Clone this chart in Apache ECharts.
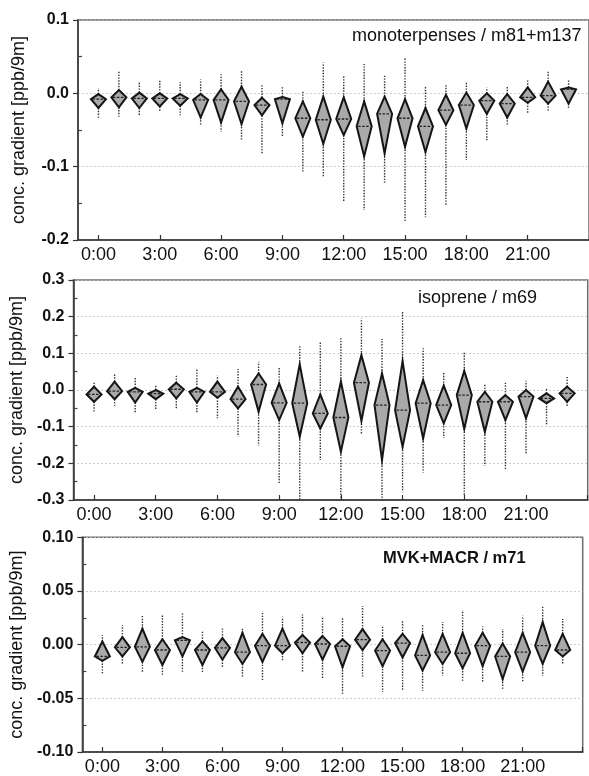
<!DOCTYPE html>
<html>
<head>
<meta charset="utf-8">
<script src="https://cdn.jsdelivr.net/npm/echarts@6/dist/echarts.min.js"></script>
<style>html,body{margin:0;padding:0;background:#fff}#c{width:589px;height:776px}</style>
</head>
<body>
<div id="c"></div>
<script>
// hours of day
const hours = [0,1,2,3,4,5,6,7,8,9,10,11,12,13,14,15,16,17,18,19,20,21,22,23];
const xLabelValues = [0,3,6,9,12,15,18,21];

// monoterpenes / m81+m137
const monoMax = [0.007,0.030,0.0145,0.019,0.0155,0.019,0.026,0.030,0.013,0.010,0.002,0.042,0.024,0.040,0.025,0.048,0.010,0.011,0.016,0.008,0.009,0.019,0.030,0.0195];
const monoQ3  = [-0.001,0.0045,0.001,0.0,-0.001,-0.001,0.0055,0.009,-0.006,-0.005,-0.011,-0.0045,-0.0055,-0.011,-0.0045,-0.008,-0.020,-0.002,0.001,0.0,-0.001,0.008,0.016,0.008];
const monoMed = [-0.008,-0.0055,-0.007,-0.007,-0.007,-0.009,-0.009,-0.011,-0.016,-0.008,-0.034,-0.036,-0.035,-0.045,-0.028,-0.034,-0.045,-0.023,-0.016,-0.010,-0.014,-0.0055,-0.003,0.0055];
const monoQ1  = [-0.020,-0.019,-0.020,-0.018,-0.017,-0.033,-0.040,-0.042,-0.030,-0.041,-0.059,-0.069,-0.057,-0.086,-0.082,-0.073,-0.080,-0.043,-0.048,-0.028,-0.033,-0.013,-0.014,-0.014];
const monoMin = [-0.034,-0.032,-0.031,-0.024,-0.030,-0.043,-0.052,-0.063,-0.082,-0.059,-0.107,-0.114,-0.148,-0.159,-0.123,-0.174,-0.169,-0.152,-0.091,-0.064,-0.043,-0.028,-0.025,-0.021];

// isoprene / m69
const isoMax = [0.020,0.043,0.036,0.015,0.039,0.057,0.039,0.057,0.077,0.064,0.121,0.132,0.143,0.195,0.139,0.214,0.114,0.050,0.102,0.014,0.020,0.025,0.003,0.039];
const isoQ3  = [0.009,0.023,0.006,0.0,0.020,0.006,0.023,0.009,0.045,0.018,0.070,-0.012,0.023,0.095,0.045,0.079,0.027,0.012,0.052,-0.005,-0.014,0.0,-0.009,0.009];
const isoMed = [-0.012,-0.003,-0.005,-0.010,0.002,-0.005,-0.005,-0.025,0.015,-0.035,-0.036,-0.064,-0.075,0.020,-0.041,-0.055,-0.036,-0.041,-0.014,-0.032,-0.032,-0.018,-0.023,-0.009];
const isoQ1  = [-0.032,-0.025,-0.034,-0.025,-0.023,-0.034,-0.021,-0.050,-0.059,-0.082,-0.127,-0.105,-0.168,-0.084,-0.191,-0.155,-0.132,-0.091,-0.106,-0.114,-0.082,-0.077,-0.036,-0.032];
const isoMin = [-0.059,-0.043,-0.062,-0.052,-0.052,-0.064,-0.077,-0.127,-0.152,-0.255,-0.300,-0.191,-0.300,-0.121,-0.300,-0.279,-0.225,-0.130,-0.286,-0.207,-0.218,-0.175,-0.097,-0.045];

// MVK+MACR / m71
const mvkMax = [0.009,0.018,0.028,0.028,0.029,0.012,0.015,0.016,0.031,0.026,0.028,0.026,0.025,0.036,0.018,0.022,0.019,0.021,0.032,0.017,0.0145,0.027,0.036,0.024];
const mvkQ3  = [0.003,0.007,0.015,0.005,0.007,0.003,0.006,0.011,0.010,0.015,0.009,0.008,0.005,0.0145,0.005,0.010,0.009,0.010,0.011,0.011,0.001,0.011,0.021,0.010];
const mvkMed = [-0.011,-0.0025,-0.002,-0.005,0.004,-0.005,-0.003,-0.007,-0.001,-0.001,0.002,0.0006,-0.0015,0.0046,-0.0055,0.0015,-0.010,-0.007,-0.008,-0.001,-0.011,-0.007,-0.001,-0.005];
const mvkQ1  = [-0.015,-0.011,-0.016,-0.019,-0.011,-0.019,-0.014,-0.018,-0.016,-0.008,-0.008,-0.014,-0.021,-0.005,-0.020,-0.012,-0.024,-0.018,-0.022,-0.020,-0.032,-0.025,-0.018,-0.011];
const mvkMin = [-0.028,-0.018,-0.026,-0.029,-0.026,-0.026,-0.021,-0.031,-0.034,-0.015,-0.026,-0.032,-0.047,-0.031,-0.044,-0.043,-0.043,-0.029,-0.034,-0.035,-0.041,-0.035,-0.029,-0.018];

const titles = ['monoterpenses / m81+m137', 'isoprene / m69', 'MVK+MACR / m71'];
const yName = 'conc. gradient [ppb/9m]';

function build(mn,q1,md,q3,mx){
  return hours.map((h,i)=>[h, mn[i], q1[i], md[i], q3[i], mx[i]]);
}
const panels = [
  {data: build(monoMin,monoQ1,monoMed,monoQ3,monoMax), min:-0.2, max:0.1, interval:0.1, minor:[-0.15,-0.05,0.05], dec:1,
   grid:{left:78, top:20, width:512, height:220}, nameGap:50, title:{x:352,y:36,size:18,w:'normal'}},
  {data: build(isoMin,isoQ1,isoMed,isoQ3,isoMax), min:-0.3, max:0.3, interval:0.1, minor:[-0.25,-0.15,-0.05,0.05,0.15,0.25], dec:1,
   grid:{left:72.3, top:280, width:515.4, height:220}, nameGap:44, title:{x:418,y:298,size:18,w:'normal'}},
  {data: build(mvkMin,mvkQ1,mvkMed,mvkQ3,mvkMax), min:-0.1, max:0.1, interval:0.05, minor:[-0.075,-0.025,0.025,0.075], dec:2,
   grid:{left:77.3, top:537.3, width:505.4, height:215.4}, nameGap:50, title:{x:383,y:558,size:16.5,w:'bold'}}
];

const FONT = '"Liberation Sans", Arial, Helvetica, sans-serif';

function renderItem(params, api){
  const x = api.value(0);
  const pMin = api.coord([x, api.value(1)]);
  const pQ1 = api.coord([x, api.value(2)]);
  const pMd = api.coord([x, api.value(3)]);
  const pQ3 = api.coord([x, api.value(4)]);
  const pMax = api.coord([x, api.value(5)]);
  const cx = pMd[0];
  const hw = 7.5;
  const dot = {stroke:'#333', lineWidth:1.4, lineDash:[1.4,1.4]};
  return {
    type:'group',
    children:[
      {type:'line', shape:{x1:cx,y1:pQ3[1],x2:cx,y2:pMax[1]}, style:dot},
      {type:'line', shape:{x1:cx,y1:pQ1[1],x2:cx,y2:pMin[1]}, style:dot},
      {type:'polygon', shape:{points:[[cx,pQ3[1]],[cx+hw,pMd[1]],[cx,pQ1[1]],[cx-hw,pMd[1]]]},
       style:{fill:'#a9a9a9', stroke:'#151515', lineWidth:2, lineJoin:'miter'}},
      {type:'line', shape:{x1:cx-hw+1.5,y1:pMd[1],x2:cx+hw-1.5,y2:pMd[1]}, style:{stroke:'#222', lineWidth:1.3, lineDash:[2.5,1.5]}}
    ]
  };
}

const option = {
  animation:false,
  backgroundColor:'#fff',
  grid: panels.map(p=>Object.assign({show:true, borderColor:'#6e6e6e', borderWidth:1.5, backgroundColor:'transparent'}, p.grid)),
  xAxis: panels.map((p,i)=>({
    type:'value', gridIndex:i, min:-1, max:24,
    axisLine:{show:true, onZero:false, lineStyle:{color:'#333', width:1.5}},
    axisTick:{show:true, inside:true, length:5, customValues:xLabelValues.concat([24]), lineStyle:{color:'#333', width:1.2}},
    axisLabel:{customValues:xLabelValues, formatter:v=>v+':00', fontSize:18, color:'#111', fontFamily:FONT, margin:6},
    splitLine:{show:false}
  })),
  yAxis: [].concat(...panels.map((p,i)=>[
    {type:'value', gridIndex:i, min:p.min, max:p.max, interval:p.interval,
     name:yName, nameLocation:'middle', nameGap:p.nameGap, nameRotate:90,
     nameTextStyle:{fontSize:18, color:'#111', fontFamily:FONT},
     axisLine:{show:true, onZero:false, lineStyle:{color:'#333', width:1.5}},
     axisTick:{show:true, inside:false, length:5, lineStyle:{color:'#333', width:1.2}},
     axisLabel:{fontSize:16, fontWeight:'bold', color:'#111', fontFamily:FONT, margin:9,
       formatter:v=>(Math.abs(v)<1e-9?0:v).toFixed(p.dec)},
     splitLine:{show:true, lineStyle:{color:'#bdbdbd', width:1, type:[1.5,2.5]}},
     showMinLabel:true, showMaxLabel:true},
    {type:'value', gridIndex:i, min:p.min, max:p.max, position:'left', offset:0,
     axisLine:{show:false, onZero:false}, axisLabel:{show:false}, splitLine:{show:false},
     axisTick:{show:true, inside:true, length:4, customValues:p.minor, lineStyle:{color:'#444', width:1.2}}}
  ])),
  graphic: panels.map((p,i)=>({
    type:'text', x:p.title.x, y:p.title.y, z:10,
    style:{text:titles[i], fontSize:p.title.size, fontWeight:p.title.w, fontFamily:FONT, fill:'#111', textVerticalAlign:'middle', textAlign:'left'}
  })),
  series: panels.map((p,i)=>({
    type:'custom', xAxisIndex:i, yAxisIndex:i*2, renderItem:renderItem,
    encode:{x:0, y:[1,2,3,4,5]}, data:p.data, clip:true
  }))
};

const chart = echarts.init(document.getElementById('c'), null, {renderer:'canvas'});
chart.setOption(option);
</script>
</body>
</html>
